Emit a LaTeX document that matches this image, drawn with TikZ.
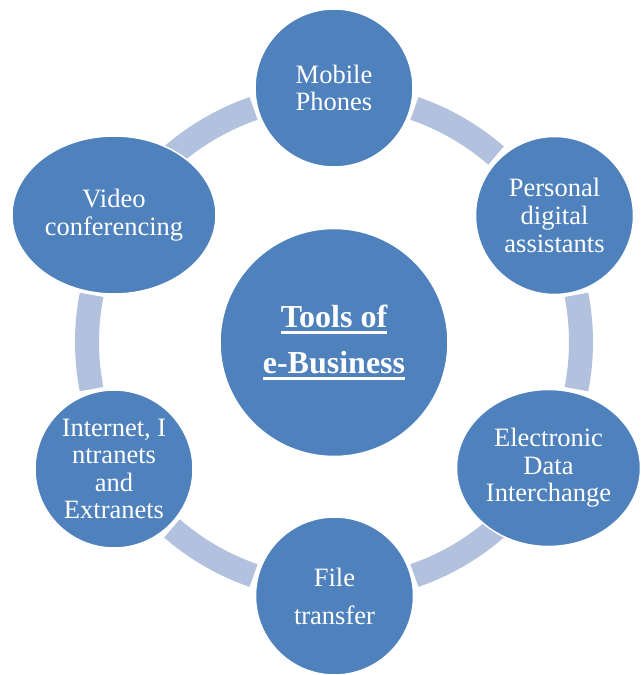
\documentclass[tikz,border=0pt]{standalone}
\usepackage{fontspec}
\setmainfont{Liberation Serif}
\usetikzlibrary{shapes.geometric}
\definecolor{nodeblue}{HTML}{4F81BD}
\definecolor{ringblue}{HTML}{B2C1DD}
\newcommand\myul[1]{\setbox0\hbox{#1}\rlap{\rule[-6.5pt]{\wd0}{3pt}}\box0}
\begin{document}
\begin{tikzpicture}[x=1pt,y=1pt,
  ring/.style={draw=ringblue, line width=24pt},
  bubble/.style={circle, fill=nodeblue, draw=white, line width=1.5pt, text=white,
    align=center, inner sep=0pt, minimum size=158pt,
    font=\fontsize{26.5}{27.6}\selectfont},
  oval/.style={bubble, ellipse}]
\useasboundingbox (0,0) rectangle (642,675);
\fill[white] (0,0) rectangle (642,675);
\coordinate (C) at (334,333);
\foreach \m in {0,60,...,300}
  \draw[ring] ([shift={(\m-11:247)}]C) arc[start angle=\m-11, end angle=\m+11, radius=247];
\node[bubble] (mob) at (334,587) {Mobile\\Phones};
\node[bubble] (pda) at (554.5,459.5) {Personal\\digital\\assistants};
\node[oval, minimum width=184pt, minimum height=157pt] (edi) at (548.5,207) {Electronic\\Data\\Interchange};
\node[bubble, font=\fontsize{26.5}{38}\selectfont] (file) at (334.5,79) {File\\transfer};
\node[bubble] (net) at (114,206) {Internet, I\\ntranets\\and\\Extranets};
\node[oval, minimum width=204pt, minimum height=158pt] (vid) at (114,460) {Video\\conferencing};
\node[bubble, minimum size=228pt, font=\bfseries\fontsize{32}{46}\selectfont] (hub) at (334,332.5) {\myul{Tools of}\\\myul{e-Business}};
\end{tikzpicture}
\end{document}
